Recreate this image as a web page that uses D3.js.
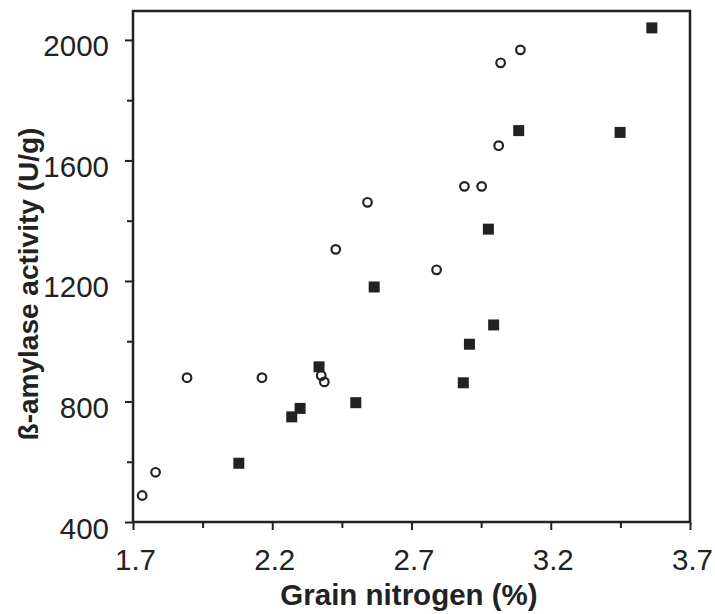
<!DOCTYPE html>
<html>
	<head>
		<meta charset="utf-8">
		<title>amylase vs nitrogen</title>
    <style>
      body{ margin:0; background:#fff; }
      svg{ display:block; font-family:"Liberation Sans", Arial, sans-serif; }
    </style>
	</head>
	<body>
    <script src="https://cdn.jsdelivr.net/npm/d3@7"></script>
    <script>
      // open circles
      var circleN = [1.733, 1.781, 1.894, 2.163, 2.376, 2.387, 2.428, 2.542, 2.79, 2.89, 2.952, 3.013, 3.02, 3.091];
      var circleAct = [488, 565, 879, 879, 886, 865, 1305, 1461, 1237, 1514, 1514, 1649, 1924, 1967];
      // filled squares
      var squareN = [2.08, 2.27, 2.3, 2.368, 2.5, 2.566, 2.886, 2.908, 2.995, 2.976, 3.085, 3.449, 3.563];
      var squareAct = [595, 749, 777, 915, 796, 1180, 862, 990, 1054, 1372, 1699, 1693, 2040];
      // ticks
      var xTicks = [1.7, 2.2, 2.7, 3.2, 3.7];
      var xMinor = [1.95, 2.45, 2.95, 3.45];
      var yTicks = [400, 800, 1200, 1600, 2000];
      var yMinor = [600, 1000, 1400, 1800];

      var W = 715, H = 614;
      var pL = 133, pR = 690, pT = 11, pB = 522;
      var ink = '#222';

      var x = d3.scaleLinear().domain([1.7, 3.7]).range([pL, pR]);
      var y = d3.scaleLinear().domain([400, 2096]).range([pB, pT]);

      var svg = d3.select('body').append('svg')
        .attr('width', W).attr('height', H);

      //框
      svg.append('rect')
        .attr('x', pL).attr('y', pT)
        .attr('width', pR - pL).attr('height', pB - pT)
        .attr('fill', 'none').attr('stroke', ink).attr('stroke-width', 2.5);

      //x轴
      var gx = svg.append('g').attr('transform', 'translate(0,' + pB + ')');
      gx.call(d3.axisBottom(x).tickValues(xTicks).tickSize(8).tickFormat(d3.format('.1f')));
      gx.call(function(g){
        g.select('.domain').remove();
        g.selectAll('line').attr('stroke', ink).attr('stroke-width', 2);
        g.selectAll('text').attr('fill', ink).attr('font-size', 29.5)
          .attr('y', 48).attr('dy', 0).attr('dx', 2);
      });
      svg.append('g').attr('transform', 'translate(0,' + pB + ')')
        .call(d3.axisBottom(x).tickValues(xMinor).tickSize(6).tickFormat(''))
        .call(function(g){
          g.select('.domain').remove();
          g.selectAll('line').attr('stroke', ink).attr('stroke-width', 2);
        });

      //y轴
      var gy = svg.append('g').attr('transform', 'translate(' + pL + ',0)');
      gy.call(d3.axisLeft(y).tickValues(yTicks).tickSize(8).tickFormat(d3.format('d')));
      gy.call(function(g){
        g.select('.domain').remove();
        g.selectAll('line').attr('stroke', ink).attr('stroke-width', 2);
        g.selectAll('text').attr('fill', ink).attr('font-size', 29.5)
          .attr('x', -24).attr('dy', 16);
      });
      svg.append('g').attr('transform', 'translate(' + pL + ',0)')
        .call(d3.axisLeft(y).tickValues(yMinor).tickSize(6).tickFormat(''))
        .call(function(g){
          g.select('.domain').remove();
          g.selectAll('line').attr('stroke', ink).attr('stroke-width', 2);
        });

      //标题
      svg.append('text')
        .attr('x', 409).attr('y', 605)
        .attr('text-anchor', 'middle')
        .attr('font-size', 29.5).attr('font-weight', 'bold').attr('fill', ink)
        .text('Grain nitrogen (%)');
      svg.append('text')
        .attr('transform', 'translate(38,' + 284 + ') rotate(-90)')
        .attr('text-anchor', 'middle')
        .attr('font-size', 28).attr('font-weight', 'bold').attr('fill', ink)
        .text('ß-amylase activity (U/g)');

      //点
      var squares = d3.zip(squareN, squareAct);
      svg.append('g').selectAll('rect').data(squares).enter().append('rect')
        .attr('x', function(d){ return x(d[0]) - 5.5; })
        .attr('y', function(d){ return y(d[1]) - 5.5; })
        .attr('width', 11).attr('height', 11)
        .attr('fill', ink);

      var circles = d3.zip(circleN, circleAct);
      svg.append('g').selectAll('circle').data(circles).enter().append('circle')
        .attr('cx', function(d){ return x(d[0]); })
        .attr('cy', function(d){ return y(d[1]); })
        .attr('r', 4.3)
        .attr('fill', 'none').attr('stroke', ink).attr('stroke-width', 2.2);
    </script>
	</body>
</html>
